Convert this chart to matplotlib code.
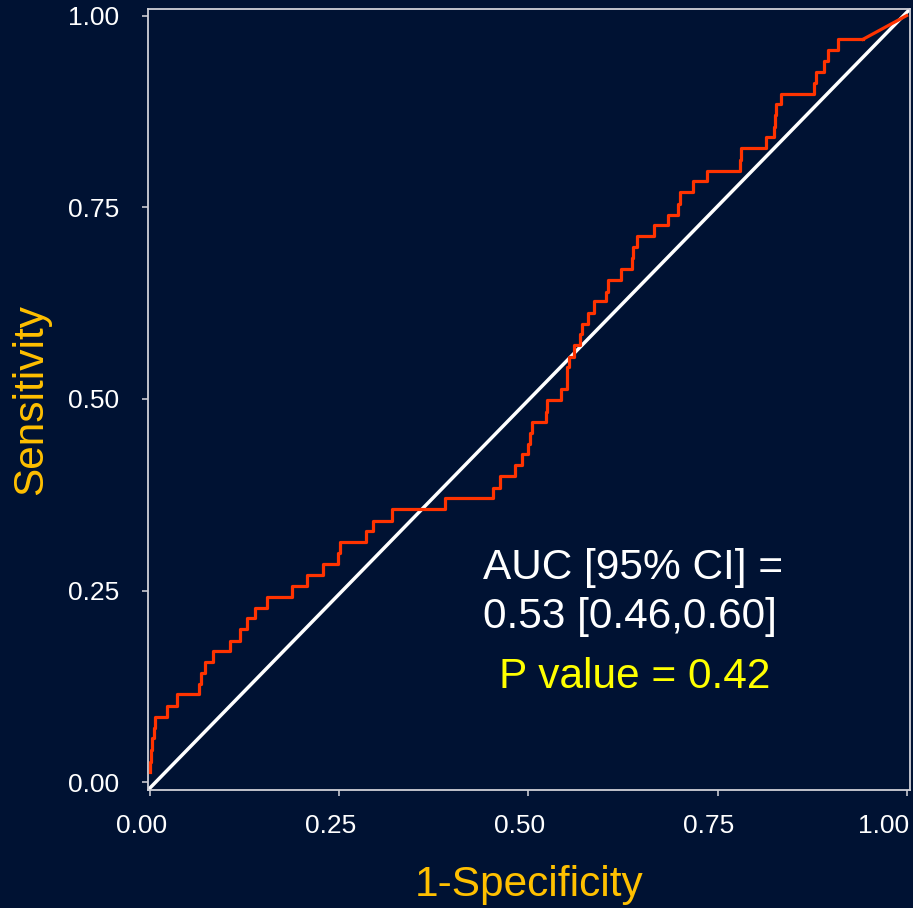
import numpy as np
import matplotlib
matplotlib.use("Agg")
import matplotlib.pyplot as plt
import matplotlib.transforms as mtransforms

plt.rcParams['font.family'] = ['Liberation Sans', 'DejaVu Sans']

# ROC points (1-specificity, sensitivity)
fpr = [0.0000, 0.0000, 0.0015, 0.0028, 0.0045, 0.0058, 0.0221, 0.0356, 0.0645, 0.0671,
       0.0724, 0.0823, 0.1060, 0.1192, 0.1285, 0.1384, 0.1547, 0.1871, 0.2066, 0.2282,
       0.2487, 0.2507, 0.2851, 0.2947, 0.3191, 0.3892, 0.4525, 0.4628, 0.4829, 0.4911,
       0.4995, 0.5025, 0.5052, 0.5226, 0.5249, 0.5427, 0.5507, 0.5540, 0.5607, 0.5679,
       0.5705, 0.5789, 0.5868, 0.6027, 0.6047, 0.6229, 0.6367, 0.6384, 0.6433, 0.6665,
       0.6845, 0.6984, 0.7006, 0.7182, 0.7360, 0.7794, 0.7810, 0.8138, 0.8246, 0.8260,
       0.8274, 0.8340, 0.8771, 0.8802, 0.8903, 0.8958, 0.9091, 0.9424, 1.0000]
tpr = [0.0138, 0.0269, 0.0421, 0.0574, 0.0704, 0.0848, 0.0999, 0.1148, 0.1278, 0.1422,
       0.1565, 0.1715, 0.1847, 0.1996, 0.2139, 0.2275, 0.2417, 0.2560, 0.2710, 0.2847,
       0.2987, 0.3134, 0.3282, 0.3412, 0.3561, 0.3704, 0.3839, 0.3989, 0.4139, 0.4279,
       0.4412, 0.4552, 0.4703, 0.4834, 0.4990, 0.5126, 0.5417, 0.5551, 0.5704, 0.5847,
       0.5978, 0.6125, 0.6278, 0.6399, 0.6551, 0.6699, 0.6842, 0.6978, 0.7125, 0.7269,
       0.7403, 0.7547, 0.7699, 0.7843, 0.7973, 0.8117, 0.8269, 0.8417, 0.8551, 0.8704,
       0.8843, 0.8974, 0.9117, 0.9268, 0.9412, 0.9551, 0.9691, 0.9691, 1.0000]

ticks = [0.00, 0.25, 0.50, 0.75, 1.00]
tick_labels = ["0.00", "0.25", "0.50", "0.75", "1.00"]

auc_line1 = "AUC [95% CI] ="
auc_line2 = "0.53 [0.46,0.60]"
p_text = "P value = 0.42"

bg = '#001233'
red = '#FF3300'

fig = plt.figure(figsize=(9.13, 9.08), dpi=100, facecolor=bg)
ax = fig.add_axes([148/913, 1 - 790/908, (910 - 148)/913, (790 - 9)/908])
ax.set_facecolor(bg)

# chance line, corner to corner
ax.plot([0, 1], [0, 1], transform=ax.transAxes, color='white', lw=2.5, zorder=2)

# ROC staircase, last segment is a tie
ax.plot(fpr[:-1], tpr[:-1], drawstyle='steps-post', color=red, lw=2.3, zorder=3)
ax.plot(fpr[-2:], tpr[-2:], color=red, lw=2.3, zorder=3)

ax.set_xlim(-0.003, 1.0045)
ax.set_ylim(-0.010, 1.0086)
ax.set_xticks(ticks)
ax.set_xticklabels(tick_labels)
ax.set_yticks(ticks)
ax.set_yticklabels(tick_labels)
ax.tick_params(colors='#c8c8d0', labelcolor='white', labelsize=19, length=4, width=1.2)
ax.tick_params(axis='x', pad=13)
ax.tick_params(axis='y', pad=17)

# x labels sit a little left of their ticks, the last one is pulled inside
xlabs = ax.get_xticklabels()
for i, lab in enumerate(xlabs):
    if i == len(xlabs) - 1:
        lab.set_ha('right')
        off = mtransforms.ScaledTranslation(3/100, 0, fig.dpi_scale_trans)
    else:
        off = mtransforms.ScaledTranslation(-9/100, 0, fig.dpi_scale_trans)
    lab.set_transform(lab.get_transform() + off)

for s in ax.spines.values():
    s.set_color('#d0d0d8')
    s.set_linewidth(1.3)

ax.set_xlabel("1-Specificity", color='#FFC000', fontsize=30.5, labelpad=20)
ax.set_ylabel("Sensitivity", color='#FFC000', fontsize=30.5, labelpad=12)

ax.text(0.44, 0.265, auc_line1, color='white', fontsize=30.5, va='baseline', ha='left')
ax.text(0.44, 0.201, auc_line2, color='white', fontsize=30.5, va='baseline', ha='left')
ax.text(0.461, 0.123, p_text, color='#FFFF00', fontsize=30.5, va='baseline', ha='left')

fig.savefig('out.png', dpi=100, facecolor=bg)
